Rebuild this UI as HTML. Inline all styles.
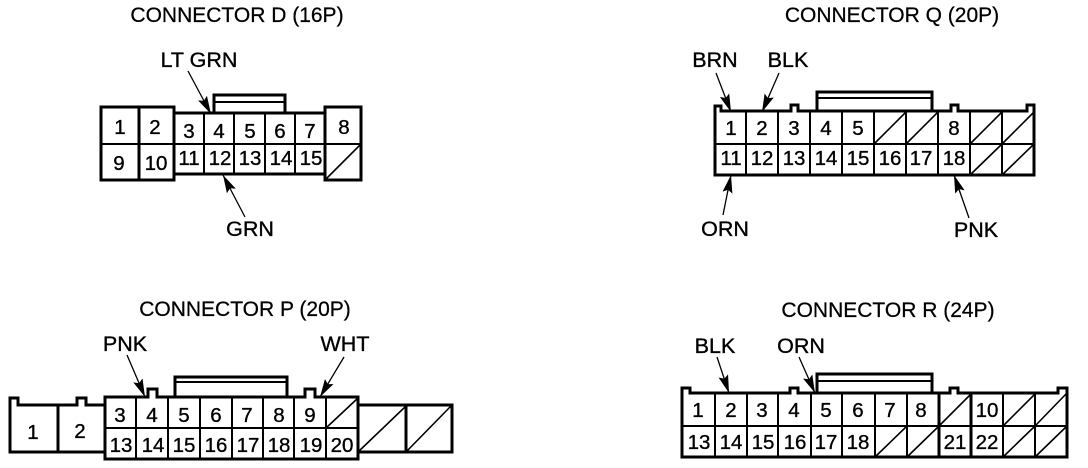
<!DOCTYPE html>
<html><head><meta charset="utf-8"><style>
html,body{margin:0;padding:0;background:#fff}
svg{display:block}
text{font-family:"Liberation Sans",sans-serif;fill:#000;stroke:#000;stroke-width:.35;text-anchor:middle}
.n text{font-size:20.5px}.l{font-size:21.5px}.t{font-size:21px;stroke-width:.25}
.o{fill:none;stroke:#000;stroke-width:3}
.i{fill:none;stroke:#000;stroke-width:2}
.d{fill:none;stroke:#000;stroke-width:1.6}
.a{fill:none;stroke:#000;stroke-width:1.3;marker-end:url(#h)}
</style></head><body>
<svg xmlns="http://www.w3.org/2000/svg" width="1088" height="468" viewBox="0 0 1088 468">
<defs><marker id="h" markerUnits="userSpaceOnUse" markerWidth="20" markerHeight="12" refX="18" refY="5" orient="auto"><path d="M0,0 L18,5 L0,10 L3,5 Z" fill="#000"/></marker></defs>

<!-- Titles -->
<text class="t" x="237" y="22">CONNECTOR D (16P)</text>
<text class="t" x="892" y="22">CONNECTOR Q (20P)</text>
<text class="t" x="245" y="316">CONNECTOR P (20P)</text>
<text class="t" x="888" y="317">CONNECTOR R (24P)</text>

<!-- Connector D -->
<path class="o" d="M214,113 V95 H285 V113"/>
<path class="i" d="M214,102 H285"/>
<path class="o" d="M174,113 H325 M174,174 H325"/>
<rect class="o" x="101" y="107" width="73" height="73"/>
<path class="o" d="M139,107 V180"/>
<rect class="o" x="325" y="107" width="36" height="73"/>
<path class="i" d="M100,144 H362 M204,113 V174 M234,113 V174 M265,113 V174 M295,113 V174"/>
<path class="d" d="M325,180 L361,144"/>
<g class="n">
<text x="120" y="134">1</text><text x="155" y="134">2</text><text x="189" y="138">3</text><text x="219" y="138">4</text><text x="250" y="138">5</text><text x="280" y="138">6</text><text x="310" y="138">7</text><text x="344" y="134">8</text>
<text x="119" y="170">9</text><text x="156" y="170">10</text><text x="189" y="165">11</text><text x="220" y="165">12</text><text x="250" y="165">13</text><text x="281" y="165">14</text><text x="311" y="165">15</text>
</g>
<text class="l" x="199" y="67">LT GRN</text>
<text class="l" x="250" y="236">GRN</text>
<path class="a" d="M188,71 L211,114"/>
<path class="a" d="M245,217 L223,175"/>

<!-- Connector Q -->
<path class="o" d="M817,111 V92 H932 V111"/>
<path class="i" d="M817,98 H932"/>
<path class="o" d="M715,144 V106 H721 V111 H791 V105 H798 V111 H951 V105 H958 V111 H1027 V105 H1034 V144 V175 H715 V144"/>
<path class="i" d="M715,144 H1034 M746,111 V175 M778,111 V175 M810,111 V175 M842,111 V175 M874,111 V175 M906,111 V175 M938,111 V175 M970,111 V175 M1002,111 V175"/>
<path class="d" d="M874,144 L906,112 M906,144 L938,112 M970,144 L1002,112 M1002,144 L1034,112 M970,175 L1002,144 M1002,175 L1034,144"/>
<g class="n">
<text x="731" y="135">1</text><text x="762" y="135">2</text><text x="794" y="135">3</text><text x="826" y="135">4</text><text x="858" y="135">5</text><text x="954" y="135">8</text>
<text x="731" y="165">11</text><text x="762" y="165">12</text><text x="794" y="165">13</text><text x="826" y="165">14</text><text x="858" y="165">15</text><text x="890" y="165">16</text><text x="921" y="165">17</text><text x="954" y="165">18</text>
</g>
<text class="l" x="715" y="67">BRN</text>
<text class="l" x="788" y="67">BLK</text>
<text class="l" x="725" y="236">ORN</text>
<text class="l" x="976" y="237">PNK</text>
<path class="a" d="M716,73 L731,112"/>
<path class="a" d="M779,73 L762,112"/>
<path class="a" d="M723,215 L731,175"/>
<path class="a" d="M969,218 L954,175"/>

<!-- Connector P -->
<path class="o" d="M175,397 V377 H287 V397"/>
<path class="i" d="M175,382 H287"/>
<path class="o" d="M105,405 H86 V398 H77 V405 H18 V398 H10 V452 H105"/>
<path class="o" d="M58,405 V452"/>
<path class="o" d="M105,397 H148 V389 H157 V397 H305 V389 H315 V397 H358 V459 H105 Z"/>
<path class="i" d="M105,428 H358 M136,397 V459 M168,397 V459 M200,397 V459 M232,397 V459 M263,397 V459 M294,397 V459 M326,397 V459"/>
<path class="o" d="M358,405 H452 V452 H358 M406,405 V452"/>
<path class="d" d="M326,428 L358,398 M358,452 L406,406 M406,452 L451,406"/>
<g class="n">
<text x="120" y="422">3</text><text x="152" y="422">4</text><text x="184" y="422">5</text><text x="216" y="422">6</text><text x="247" y="422">7</text><text x="279" y="422">8</text><text x="310" y="422">9</text>
<text x="121" y="452">13</text><text x="153" y="452">14</text><text x="184" y="452">15</text><text x="216" y="452">16</text><text x="248" y="452">17</text><text x="279" y="452">18</text><text x="311" y="452">19</text><text x="342" y="452">20</text>
<text x="33" y="439">1</text><text x="80" y="438">2</text>
</g>
<text class="l" x="125" y="351">PNK</text>
<text class="l" x="345" y="351">WHT</text>
<path class="a" d="M127,355 L145,397"/>
<path class="a" d="M344,357 L320,397"/>

<!-- Connector R -->
<path class="o" d="M817,393 V374 H932 V393"/>
<path class="i" d="M817,381 H932"/>
<path class="o" d="M682,426 V388 H690 V393 H790 V388 H798 V393 H950 V388 H958 V393 H1058 V388 H1067 V457 H682 V426"/>
<path class="i" d="M682,426 H1067 M715,393 V457 M747,393 V457 M778,393 V457 M811,393 V457 M842,393 V457 M875,393 V457 M907,393 V457 M1003,393 V457 M1035,393 V457"/>
<path class="o" d="M939,393 V457 M971,393 V457"/>
<path class="d" d="M939,426 L971,394 M1003,426 L1035,394 M1035,426 L1066,394 M875,457 L907,426 M907,457 L939,426 M1003,457 L1035,426 M1035,457 L1067,426"/>
<g class="n">
<text x="698" y="417">1</text><text x="731" y="417">2</text><text x="762" y="417">3</text><text x="794" y="417">4</text><text x="826" y="417">5</text><text x="858" y="417">6</text><text x="890" y="417">7</text><text x="921" y="417">8</text><text x="987" y="417">10</text>
<text x="699" y="449">13</text><text x="731" y="449">14</text><text x="763" y="449">15</text><text x="795" y="449">16</text><text x="826" y="449">17</text><text x="858" y="449">18</text><text x="955" y="449">21</text><text x="987" y="449">22</text>
</g>
<text class="l" x="715" y="353">BLK</text>
<text class="l" x="801" y="353">ORN</text>
<path class="a" d="M717,357 L729,393"/>
<path class="a" d="M799,357 L815,393"/>
</svg>
</body></html>
